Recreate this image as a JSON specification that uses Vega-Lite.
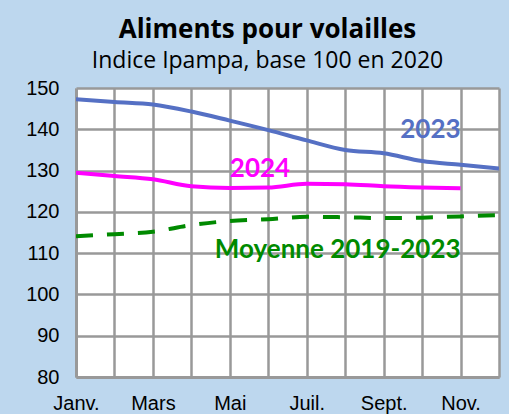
{
  "$schema": "https://vega.github.io/schema/vega-lite/v6.json",
  "width": 423,
  "height": 289,
  "autosize": {"type": "none"},
  "padding": {"left": 76, "top": 88, "right": 10, "bottom": 37},
  "background": "#bdd7ee",
  "config": {
    "view": {"fill": "white", "stroke": null},
    "axis": {"labelFont": "Liberation Sans", "labelFontSize": 20, "labelColor": "#000000", "gridColor": "#999999", "gridWidth": 2.5, "gridOpacity": 1, "domainColor": "#999999", "domainWidth": 3, "ticks": false, "title": null}
  },
  "title": {
    "text": "Aliments pour volailles",
    "subtitle": "Indice Ipampa, base 100 en 2020",
    "anchor": "middle",
    "frame": "group",
    "dx": -20,
    "offset": 5,
    "font": "Open Sans",
    "fontSize": 26,
    "fontWeight": "bold",
    "color": "#000000",
    "subtitleFont": "Open Sans",
    "subtitleFontSize": 23,
    "subtitleColor": "#000000",
    "subtitlePadding": 7
  },
  "datasets": {
    "series": [
      {"mois": "Janv.", "serie": "2023", "valeur": 147.3},
      {"mois": "Févr.", "serie": "2023", "valeur": 146.6},
      {"mois": "Mars", "serie": "2023", "valeur": 146.0},
      {"mois": "Avr.", "serie": "2023", "valeur": 144.3},
      {"mois": "Mai", "serie": "2023", "valeur": 142.1},
      {"mois": "Juin", "serie": "2023", "valeur": 139.8},
      {"mois": "Juil.", "serie": "2023", "valeur": 137.3},
      {"mois": "Août", "serie": "2023", "valeur": 135.0},
      {"mois": "Sept.", "serie": "2023", "valeur": 134.2},
      {"mois": "Oct.", "serie": "2023", "valeur": 132.3},
      {"mois": "Nov.", "serie": "2023", "valeur": 131.4},
      {"mois": "Déc.", "serie": "2023", "valeur": 130.5},
      {"mois": "Janv.", "serie": "2024", "valeur": 129.5},
      {"mois": "Févr.", "serie": "2024", "valeur": 128.7},
      {"mois": "Mars", "serie": "2024", "valeur": 127.9},
      {"mois": "Avr.", "serie": "2024", "valeur": 126.2},
      {"mois": "Mai", "serie": "2024", "valeur": 125.8},
      {"mois": "Juin", "serie": "2024", "valeur": 125.9},
      {"mois": "Juil.", "serie": "2024", "valeur": 126.8},
      {"mois": "Août", "serie": "2024", "valeur": 126.7},
      {"mois": "Sept.", "serie": "2024", "valeur": 126.2},
      {"mois": "Oct.", "serie": "2024", "valeur": 125.9},
      {"mois": "Nov.", "serie": "2024", "valeur": 125.7},
      {"mois": "Janv.", "serie": "Moyenne 2019-2023", "valeur": 114.1},
      {"mois": "Févr.", "serie": "Moyenne 2019-2023", "valeur": 114.6},
      {"mois": "Mars", "serie": "Moyenne 2019-2023", "valeur": 115.2},
      {"mois": "Avr.", "serie": "Moyenne 2019-2023", "valeur": 116.8},
      {"mois": "Mai", "serie": "Moyenne 2019-2023", "valeur": 117.8},
      {"mois": "Juin", "serie": "Moyenne 2019-2023", "valeur": 118.2},
      {"mois": "Juil.", "serie": "Moyenne 2019-2023", "valeur": 118.8},
      {"mois": "Août", "serie": "Moyenne 2019-2023", "valeur": 118.7},
      {"mois": "Sept.", "serie": "Moyenne 2019-2023", "valeur": 118.5},
      {"mois": "Oct.", "serie": "Moyenne 2019-2023", "valeur": 118.6},
      {"mois": "Nov.", "serie": "Moyenne 2019-2023", "valeur": 118.9},
      {"mois": "Déc.", "serie": "Moyenne 2019-2023", "valeur": 119.2}
    ],
    "etiquettes": [
      {"mois": "Nov.", "serie": "2023", "valeur": 137.9, "cote": "droite"},
      {"mois": "Mai", "serie": "2024", "valeur": 128.4, "cote": "gauche"},
      {"mois": "Nov.", "serie": "Moyenne 2019-2023", "valeur": 108.8, "cote": "droite"}
    ]
  },
  "encoding": {
    "x": {
      "field": "mois",
      "type": "ordinal",
      "sort": ["Janv.", "Févr.", "Mars", "Avr.", "Mai", "Juin", "Juil.", "Août", "Sept.", "Oct.", "Nov.", "Déc."],
      "scale": {"type": "point", "padding": 0, "domain": ["Janv.", "Févr.", "Mars", "Avr.", "Mai", "Juin", "Juil.", "Août", "Sept.", "Oct.", "Nov.", "Déc."]},
      "axis": {"grid": true, "labelAngle": 0, "labelPadding": 16, "labelExpr": "indexof(['Janv.','Mars','Mai','Juil.','Sept.','Nov.'], datum.label) >= 0 ? datum.label : ''"}
    },
    "y": {
      "field": "valeur",
      "type": "quantitative",
      "scale": {"domain": [80, 150], "nice": false, "zero": false},
      "axis": {"grid": true, "values": [80, 90, 100, 110, 120, 130, 140, 150], "labelPadding": 17}
    },
    "color": {
      "field": "serie",
      "type": "nominal",
      "scale": {"domain": ["2023", "2024", "Moyenne 2019-2023"], "range": ["#5570c4", "#ff00ff", "#008a00"]},
      "legend": null
    }
  },
  "layer": [
    {
      "data": {"name": "series"},
      "transform": [{"filter": "datum.serie != 'Moyenne 2019-2023'"}],
      "mark": {"type": "line", "interpolate": "monotone", "strokeWidth": 4, "clip": true}
    },
    {
      "data": {"name": "series"},
      "transform": [{"filter": "datum.serie == 'Moyenne 2019-2023'"}],
      "mark": {"type": "line", "interpolate": "monotone", "strokeWidth": 4, "strokeDash": [17, 14], "clip": true}
    },
    {
      "data": {"name": "etiquettes"},
      "transform": [{"filter": "datum.cote == 'droite'"}],
      "mark": {"type": "text", "align": "right", "baseline": "alphabetic", "font": "Lato", "fontSize": 26, "fontWeight": "bold"},
      "encoding": {"text": {"field": "serie"}}
    },
    {
      "data": {"name": "etiquettes"},
      "transform": [{"filter": "datum.cote == 'gauche'"}],
      "mark": {"type": "text", "align": "left", "baseline": "alphabetic", "font": "Lato", "fontSize": 26, "fontWeight": "bold"},
      "encoding": {"text": {"field": "serie"}}
    }
  ]
}
